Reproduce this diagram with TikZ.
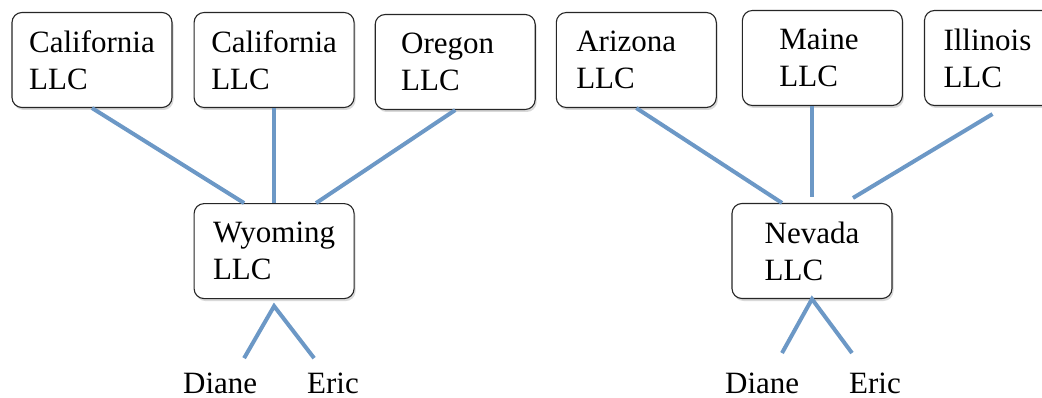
\documentclass[tikz,border=0pt]{standalone}
\usepackage{fontspec}
\setmainfont{Liberation Serif}
\newfontfamily\boxfont{Liberation Serif}
\usetikzlibrary{positioning,calc,shadows}
\definecolor{linkblue}{RGB}{108,152,198}

\begin{document}
\begin{tikzpicture}[
  x=1pt, y=-1pt,
  font=\boxfont\fontsize{31}{37}\selectfont,
  box/.style  = {draw=black!85, rounded corners=10pt, line width=1.1pt, fill=white,
                 align=left, minimum width=160pt, minimum height=95pt, inner sep=0pt,
                 drop shadow={shadow xshift=1.5pt, shadow yshift=-2.5pt,
                              opacity=0.25, fill=black!60}},
  lbox/.style = {box, text width=#1, inner xsep={(160pt-#1)/2}},
  who/.style  = {anchor=base west, inner sep=0pt},
  ln/.style   = {draw=linkblue, line width=4pt},
]
\useasboundingbox (0,0) rectangle (1042,398);
\clip (0,0) rectangle (1042,398);

% =========================== ROW 1 : member LLCs ===========================
\node[box]                                    (cal1) at (92,60) {California\\LLC};
\node[box, right=21pt of cal1]                (cal2)            {California\\LLC};
\node[lbox=108pt, right=20pt of cal2, yshift=-2pt] (ore)        {Oregon\\LLC};
\node[lbox=120pt, right=20pt of ore, yshift=2pt]   (ari)        {Arizona\\LLC};
\node[lbox=86pt, right=25pt of ari, yshift=2pt]    (mai)        {Maine\\LLC};
\node[lbox=122pt, right=21pt of mai]               (ill)        {Illinois\\LLC};

% =========================== ROW 2 : holding LLCs ==========================
\node[box, below=95pt of cal2] (wy) {Wyoming\\LLC};
\node[box]                     (nv) at (812,251) {Nevada\\LLC};

% =========================== ROW 3 : owners ================================
\node[who] (di1) at (183,393) {Diane};
\node[who] (er1) at (307,393) {Eric};
\node[who] (di2) at (725,393) {Diane};
\node[who] (er2) at (849,393) {Eric};

% =========================== links into Wyoming ============================
\draw[ln] (cal1.south) -- ($(wy.north)+(-30,0)$);
\draw[ln] (cal2.south) -- (wy.north);
\draw[ln] (ore.south)  -- ($(wy.north)+(42,0)$);

\coordinate (wyfork) at ($(wy.south)+(0,7)$);
\coordinate (wyl)    at ($(wy.south)+(-30,59)$);
\coordinate (wyr)    at ($(wy.south)+(40,59)$);
\draw[ln] (wyl) -- (wyfork) -- (wyr);

% =========================== links into Nevada =============================
\draw[ln] (ari.south) -- ($(nv.north)+(-30,0)$);
\draw[ln] (mai.south -| nv.north) -- ($(nv.north)+(0,-6)$);
\draw[ln] ($(ill.south)+(-12,8)$) -- ($(nv.north)+(41,-5)$);

\coordinate (nvl) at ($(nv.south)+(-30,54)$);
\coordinate (nvr) at ($(nv.south)+(40,54)$);
\draw[ln] (nvl) -- (nv.south) -- (nvr);

\end{tikzpicture}
\end{document}
